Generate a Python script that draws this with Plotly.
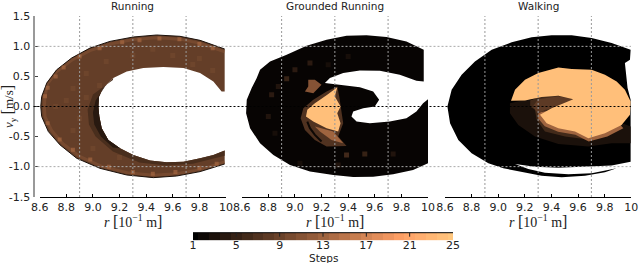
import plotly.graph_objects as go

W, H = 640, 263
PANEL_TITLES = ["Running", "Grounded Running", "Walking"]
X_TICKS = [8.6, 8.8, 9.0, 9.2, 9.4, 9.6, 9.8, 10.0]
X_LABELS = ["8.6", "8.8", "9.0", "9.2", "9.4", "9.6", "9.8", "10"]
Y_TICKS = [1.5, 1.0, 0.5, 0.0, -0.5, -1.0, -1.5]
Y_LABELS = ["1.5", "1.0", "0.5", "0.0", "-0.5", "-1.0", "-1.5"]
GRID_X = [8.9, 9.3, 9.7]
GRID_Y = [1.0, -1.0]
STEP_TICKS = [1, 5, 9, 13, 17, 21, 25]
STEP_LEVELS = list(range(1, 26))

# Running
run_outer_x = [9.99, 9.805, 9.654, 9.479, 9.304, 9.128, 8.978, 8.84, 8.728, 8.653, 8.615, 8.608, 8.615, 8.665, 8.753, 8.878, 9.053, 9.254, 9.454, 9.629, 9.805, 9.99]
run_outer_y = [0.956, 1.10, 1.167, 1.189, 1.156, 1.083, 0.972, 0.806, 0.611, 0.389, 0.167, 0, -0.167, -0.417, -0.639, -0.861, -1.028, -1.139, -1.183, -1.156, -1.083, -0.956]
run_inner_x = [9.99, 9.905, 9.805, 9.68, 9.554, 9.429, 9.304, 9.204, 9.116, 9.066, 9.048, 9.041, 9.046, 9.078, 9.153, 9.254, 9.379, 9.529, 9.68, 9.805, 9.905, 9.967, 9.99]
run_inner_y = [-0.733, -0.806, -0.861, -0.917, -0.928, -0.9, -0.806, -0.694, -0.556, -0.361, -0.167, 0, 0.167, 0.306, 0.472, 0.583, 0.639, 0.656, 0.639, 0.556, 0.417, 0.25, 0.25]
run_dark_x = [9.15, 9.0, 8.96, 8.97, 9.02, 9.15, 9.35, 9.55, 9.75, 9.99]
run_dark_y = [0.44, 0.2, -0.05, -0.3, -0.5, -0.75, -0.93, -0.98, -0.95, -0.82]
run_darker_x = [9.09, 9.02, 9.0, 9.01, 9.06, 9.15]
run_darker_y = [0.33, 0.1, -0.1, -0.3, -0.5, -0.68]
run_band_x = [9.99, 9.805, 9.654, 9.479, 9.304, 9.128, 8.978, 8.84, 8.728, 8.66, 8.64, 8.635, 8.64, 8.69, 8.775, 8.9, 9.07, 9.26, 9.454, 9.629, 9.805, 9.99]
run_band_y = [0.91, 1.05, 1.12, 1.145, 1.115, 1.04, 0.93, 0.77, 0.58, 0.38, 0.17, 0, -0.17, -0.4, -0.62, -0.83, -1.0, -1.1, -1.145, -1.12, -1.05, -0.92]
run_rim_x = [8.66, 8.64, 8.66, 8.72, 8.78, 8.9, 9.05, 9.22, 9.35, 9.5, 9.65, 9.8, 9.9, 8.75, 8.85, 8.98, 9.12, 9.3, 9.45, 9.62, 9.8, 9.93]
run_rim_y = [0.31, 0.17, -0.28, 0.5, 0.65, 0.83, 0.97, 1.07, 1.1, 1.13, 1.12, 1.04, 0.97, -0.55, -0.72, -0.88, -1.0, -1.09, -1.12, -1.09, -1.02, -0.95]
run_spot_x = [8.85, 8.8, 8.9, 8.95, 9.1, 9.3, 9.45, 9.6, 9.8, 8.85, 9.0, 9.2, 8.72, 9.75, 9.9, 9.05, 8.95]
run_spot_y = [0.3, 0.1, -0.2, 0.55, 0.75, 0.85, 0.95, 0.85, 0.8, -0.4, -0.7, -0.85, 0, 0.7, 0.6, 0.35, 0.15]
RUN_BASE, RUN_DARK, RUN_DARKER, RUN_BAND, RUN_RIM, RUN_SPOT = 8.5, 6.5, 4, 11, 14, 10.5

# Grounded running
gr_body_x = [9.968, 9.838, 9.688, 9.538, 9.388, 9.238, 9.088, 8.938, 8.813, 8.738, 8.713, 8.675, 8.638, 8.633, 8.663, 8.738, 8.838, 8.963, 9.113, 9.288, 9.438, 9.588, 9.738, 9.888, 10.0, 10.0, 9.963, 9.913, 9.838, 9.713, 9.563, 9.463, 9.425, 9.438, 9.513, 9.6, 9.633, 9.588, 9.488, 9.338, 9.225, 9.263, 9.363, 9.488, 9.638, 9.788, 9.913, 9.968]
gr_body_y = [0.944, 1.083, 1.156, 1.183, 1.178, 1.111, 1.011, 0.861, 0.75, 0.611, 0.472, 0.306, 0.111, -0.111, -0.361, -0.611, -0.806, -0.972, -1.083, -1.139, -1.172, -1.167, -1.128, -1.056, -0.944, 0.122, 0.056, -0.083, -0.194, -0.25, -0.278, -0.25, -0.167, -0.083, -0.028, 0, 0.111, 0.25, 0.322, 0.361, 0.389, 0.472, 0.556, 0.6, 0.594, 0.528, 0.428, 0.417]
gr_halo_x = [9.318, 9.238, 9.138, 9.063, 9.043, 9.075, 9.15, 9.238, 9.388, 9.325, 9.363, 9.35, 9.333]
gr_halo_y = [0.333, 0.25, 0.111, -0.028, -0.194, -0.389, -0.556, -0.667, -0.656, -0.5, -0.278, -0.056, 0.167]
gr_streak_x = [9.15, 9.288, 9.363, 9.275, 9.188]
gr_streak_y = [-0.333, -0.417, -0.611, -0.556, -0.417]
gr_bright_x = [9.318, 9.243, 9.15, 9.093, 9.083, 9.138, 9.238, 9.325, 9.343, 9.318, 9.343, 9.3]
gr_bright_y = [0.322, 0.194, 0.056, -0.056, -0.167, -0.25, -0.361, -0.417, -0.278, -0.111, 0, 0.167]
gr_upper_x = [9.1, 9.15, 9.2, 9.175, 9.138, 9.075, 9.1]
gr_upper_y = [0.444, 0.444, 0.361, 0.306, 0.222, 0.25, 0.333]
gr_slit_x = [9.093, 9.113, 9.15, 9.2]
gr_slit_y = [-0.25, -0.361, -0.472, -0.583]
gr_spot_x = [9.113, 9.0, 8.938, 8.825, 8.875, 8.8, 9.4, 9.388, 9.525, 9.738, 9.325, 9.038, 9.25, 8.85]
gr_spot_y = [0.722, 0.611, 0.461, 0.194, 0.333, -0.167, 0.833, -0.806, -0.789, -0.789, -0.972, -0.944, 0.694, -0.444]
gr_spot_v = [5, 5, 6, 5, 4, 4, 3, 7, 6, 4, 4, 3, 3, 3]
GR_BODY, GR_HALO, GR_STREAK, GR_BRIGHT, GR_UPPER = 1.5, 7, 13, 24, 11

# Walking
wk_body_x = [9.995, 9.852, 9.702, 9.552, 9.401, 9.251, 9.101, 8.951, 8.825, 8.725, 8.65, 8.618, 8.638, 8.7, 8.8, 8.926, 9.038, 9.201, 9.326, 9.477, 9.652, 9.802, 9.89, 9.702, 9.527, 9.351, 9.226, 9.126, 9.276, 9.451, 9.627, 9.852, 9.995, 9.995, 9.972, 9.965, 9.952, 9.99]
wk_body_y = [0.944, 1.056, 1.139, 1.183, 1.183, 1.15, 1.067, 0.944, 0.75, 0.528, 0.278, 0, -0.278, -0.556, -0.778, -0.944, -1.028, -1.094, -1.15, -1.178, -1.15, -1.094, -1.028, -1.111, -1.128, -1.1, -1.039, -0.956, -1.0, -1.017, -1.0, -0.983, -0.917, 0.111, 0.306, 0.444, 0.722, 0.778]
wk_low_x = [9.088, 9.201, 9.5, 9.995, 9.995, 9.852, 9.677, 9.452, 9.276, 9.151, 9.088]
wk_low_y = [0.056, 0.111, 0.1, -0.333, -0.611, -0.611, -0.667, -0.622, -0.5, -0.306, -0.111]
wk_mid_x = [9.24, 9.326, 9.577, 9.852, 9.702, 9.502, 9.351, 9.289, 9.276, 9.24]
wk_mid_y = [0.1, 0.178, 0.167, -0.389, -0.556, -0.5, -0.417, -0.222, -0.056, 0]
wk_near_x = [9.3, 9.3, 9.35, 9.45, 9.58, 9.68, 9.82, 9.94, 9.8, 9.45]
wk_near_y = [-0.1, -0.2, -0.33, -0.42, -0.47, -0.58, -0.5, -0.36, 0, -0.05]
wk_wedge_x = [9.3, 9.45, 9.565, 9.55, 9.45, 9.35, 9.3, 9.26]
wk_wedge_y = [0.12, 0.17, 0.125, 0.06, 0, -0.06, -0.12, 0]
wk_bright_x = [9.096, 9.126, 9.201, 9.301, 9.452, 9.552, 9.702, 9.802, 9.89, 9.952, 9.995, 9.99, 9.927, 9.802, 9.677, 9.577, 9.452, 9.364, 9.314, 9.401, 9.564, 9.452, 9.326, 9.201]
wk_bright_y = [0.094, 0.278, 0.444, 0.556, 0.65, 0.622, 0.611, 0.528, 0.417, 0.278, 0.083, -0.139, -0.306, -0.444, -0.528, -0.417, -0.361, -0.278, -0.139, -0.028, 0.122, 0.178, 0.156, 0.1]
WK_BODY, WK_LOW, WK_MID, WK_NEAR, WK_WEDGE, WK_BRIGHT = 1, 3, 6, 13, 8, 24

TEXT = "#222"
TICK_FONT = dict(family="DejaVu Sans", size=11, color=TEXT)


def copper(v):
    t = (v - 1) / 24
    return f"rgb({min(1, 1.25 * t) * 255:.0f},{0.7812 * t * 255:.0f},{0.4975 * t * 255:.0f})"


PANELS = [(39.7, 226), (241.7, 428), (445, 631.3)]
TOP, BOTTOM = 16.3, 196.7
CB_L, CB_R, CB_T, CB_B = 193, 453, 232.7, 240.2
px = lambda v: v / W
py = lambda v: 1 - v / H

fig = go.Figure()


def poly(ax, xs, ys, v):
    fig.add_trace(go.Scatter(x=xs + xs[:1], y=ys + ys[:1], xaxis=ax, yaxis="y", mode="lines",
                             line=dict(width=0), fill="toself", fillcolor=copper(v),
                             hoverinfo="skip", showlegend=False))


def spots(ax, xs, ys, vs, size, opacity):
    fig.add_trace(go.Scatter(x=xs, y=ys, xaxis=ax, yaxis="y", mode="markers",
                             marker=dict(symbol="square", size=size, opacity=opacity, line=dict(width=0),
                                         color=[copper(v) for v in vs]),
                             hoverinfo="skip", showlegend=False))


# Running
poly("x", run_outer_x + run_inner_x, run_outer_y + run_inner_y, RUN_BASE)
poly("x", run_dark_x + run_inner_x[:15], run_dark_y + run_inner_y[:15], RUN_DARK)
poly("x", run_darker_x + run_inner_x[7:14], run_darker_y + run_inner_y[7:14], RUN_DARKER)
fig.add_trace(go.Scatter(x=run_band_x, y=run_band_y, xaxis="x", yaxis="y", mode="lines", opacity=0.55,
                         line=dict(width=3, color=copper(RUN_BAND)), hoverinfo="skip", showlegend=False))
fig.add_trace(go.Scatter(x=run_outer_x, y=run_outer_y, xaxis="x", yaxis="y", mode="lines",
                         line=dict(width=1, color=copper(3)), hoverinfo="skip", showlegend=False))
spots("x", run_spot_x, run_spot_y, [RUN_SPOT] * len(run_spot_x), 5, 0.4)
spots("x", run_rim_x, run_rim_y, [RUN_RIM] * len(run_rim_x), 4, 0.6)

# Grounded running
poly("x2", gr_body_x, gr_body_y, GR_BODY)
spots("x2", gr_spot_x, gr_spot_y, gr_spot_v, 5, 0.8)
poly("x2", gr_halo_x, gr_halo_y, GR_HALO)
poly("x2", gr_streak_x, gr_streak_y, GR_STREAK)
poly("x2", gr_upper_x, gr_upper_y, GR_UPPER)
poly("x2", gr_bright_x, gr_bright_y, GR_BRIGHT)
fig.add_trace(go.Scatter(x=gr_slit_x, y=gr_slit_y, xaxis="x2", yaxis="y", mode="lines",
                         line=dict(width=2, color=copper(2)), hoverinfo="skip", showlegend=False))

# Walking
poly("x3", wk_body_x, wk_body_y, WK_BODY)
poly("x3", wk_low_x, wk_low_y, WK_LOW)
poly("x3", wk_mid_x, wk_mid_y, WK_MID)
poly("x3", wk_near_x, wk_near_y, WK_NEAR)
poly("x3", wk_wedge_x, wk_wedge_y, WK_WEDGE)
poly("x3", wk_bright_x, wk_bright_y, WK_BRIGHT)

# Colour bar drawn as its own one-row heatmap
fig.add_trace(go.Heatmap(x=STEP_LEVELS, y=[0], z=[STEP_LEVELS], xaxis="x4", yaxis="y4", zmin=1, zmax=25,
                         colorscale=[[i / 24, copper(1 + i)] for i in range(25)], showscale=False,
                         hoverinfo="skip"))

layout = dict(template="none", width=W, height=H, autosize=False, margin=dict(l=0, r=0, t=0, b=0, pad=0),
              paper_bgcolor="white", plot_bgcolor="rgba(0,0,0,0)", showlegend=False)
for i, (a, b) in enumerate(PANELS):
    key = "xaxis" if i == 0 else f"xaxis{i + 1}"
    layout[key] = dict(domain=[px(a), px(b)], range=[8.6, 10], anchor="y", tickmode="array", automargin=False,
                       tickvals=X_TICKS, ticktext=X_LABELS, ticks="inside", ticklen=3, tickcolor="black",
                       showgrid=False, zeroline=False, showline=True, linecolor="black", linewidth=1,
                       tickfont=TICK_FONT)
layout["yaxis"] = dict(domain=[py(BOTTOM), py(TOP)], range=[-1.5, 1.5], anchor="free", position=px(33.5),
                       tickmode="array", tickvals=Y_TICKS, ticktext=Y_LABELS, ticks="inside", ticklen=3,
                       automargin=False, tickcolor="#444", showgrid=False, zeroline=False, showline=True,
                       linecolor="#999", linewidth=2, tickfont=TICK_FONT)
layout["xaxis4"] = dict(domain=[px(CB_L), px(CB_R)], range=[1, 25], anchor="y4", tickmode="array",
                        automargin=False, tickvals=STEP_TICKS, ticks="", showgrid=False, zeroline=False,
                        showline=False, tickfont=TICK_FONT, ticklabelstandoff=-3)
layout["yaxis4"] = dict(domain=[py(CB_B), py(CB_T)], range=[-0.5, 0.5], anchor="x4", visible=False, automargin=False)

shapes = []
for i in range(3):
    ref = "x" if i == 0 else f"x{i + 1}"
    for g in GRID_X:
        shapes.append(dict(type="line", xref=ref, yref="paper", x0=g, x1=g, y0=py(197), y1=py(16),
                           line=dict(color="#999", width=1, dash="2px,2px"), layer="above"))
for g in GRID_Y:
    shapes.append(dict(type="line", xref="paper", yref="y", x0=px(33.5), x1=px(631), y0=g, y1=g,
                       line=dict(color="#aaa", width=1, dash="2px,2px"), layer="above"))
shapes.append(dict(type="line", xref="paper", yref="y", x0=px(33.5), x1=px(631), y0=0, y1=0,
                   line=dict(color="black", width=1, dash="2px,2px"), layer="above"))
shapes.append(dict(type="line", xref="x4", yref="paper", x0=1, x1=25, y0=py(CB_T), y1=py(CB_T),
                   line=dict(color="black", width=1), layer="above"))
for s in STEP_TICKS[1:-1]:
    shapes.append(dict(type="line", xref="x4", yref="paper", x0=s, x1=s, y0=py(CB_T), y1=py(CB_T + 4),
                       line=dict(color="#222", width=1), layer="above"))
layout["shapes"] = shapes

BR = '<span style="font-size:16px">'
ann = [dict(text="Steps", x=px(323), y=py(257.5), xref="paper", yref="paper", showarrow=False,
            xanchor="center", yanchor="middle", font=dict(family="DejaVu Sans", size=10.5, color=TEXT))]
for t, (a, b) in zip(PANEL_TITLES, PANELS):
    ann.append(dict(text=t, x=px((a + b) / 2), y=py(5.5), xref="paper", yref="paper", showarrow=False,
                    xanchor="center", yanchor="middle", font=dict(family="DejaVu Sans", size=10.5, color=TEXT)))
    ann.append(dict(text=f"<i>r</i> {BR}[</span>10<sup>−1</sup> m{BR}]</span>", x=px((a + b) / 2), y=py(220.5),
                    xref="paper", yref="paper", showarrow=False, xanchor="center", yanchor="middle",
                    font=dict(family="Liberation Serif", size=14, color=TEXT)))
ann.append(dict(text=f"<i>v</i><sub>y</sub> {BR}[</span>m/s{BR}]</span>", x=px(8), y=py(107), xref="paper",
                yref="paper", showarrow=False, textangle=-90, xanchor="center", yanchor="middle",
                font=dict(family="Liberation Serif", size=13, color=TEXT)))
layout["annotations"] = ann

fig.update_layout(**layout)
fig.write_html("out.html", config={"displayModeBar": False},
               post_script="document.body.style.margin='0';document.documentElement.style.margin='0';")
